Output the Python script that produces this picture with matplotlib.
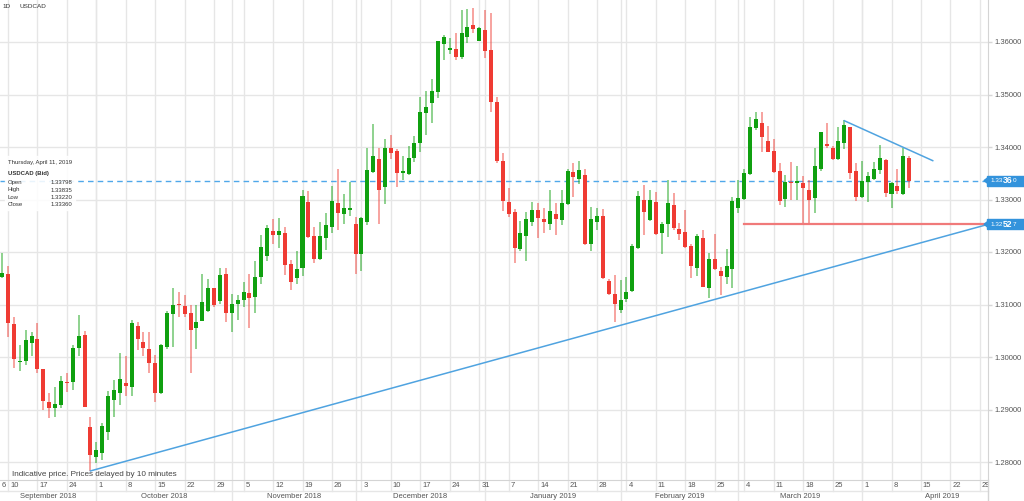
import numpy as np
import pandas as pd
import matplotlib
matplotlib.use("Agg")
import matplotlib.pyplot as plt
from matplotlib.patches import Rectangle, Polygon
from matplotlib.transforms import Bbox, TransformedBbox, blended_transform_factory

# daily USDCAD candles, first one is Fri 2018-09-07, last one Thu 2019-04-11
first_day = "2018-09-07"
opens = [1.3152, 1.3158, 1.3063, 1.2990, 1.2993, 1.3026, 1.3034, 1.2978, 1.2914, 1.2903,
         1.2909, 1.2953, 1.2952, 1.3018, 1.3042, 1.2866, 1.2809, 1.2818, 1.2858, 1.2918,
         1.2932, 1.2951, 1.2942, 1.3060, 1.3029, 1.3015, 1.2988, 1.2931, 1.3020, 1.3082,
         1.3101, 1.3097, 1.3083, 1.3055, 1.3069, 1.3088, 1.3131, 1.3107, 1.3158, 1.3083,
         1.3101, 1.3109, 1.3121, 1.3114, 1.3153, 1.3192, 1.3240, 1.3232, 1.3237, 1.3177,
         1.3150, 1.3169, 1.3296, 1.3230, 1.3186, 1.3226, 1.3248, 1.3293, 1.3272, 1.3280,
         1.3253, 1.3196, 1.3258, 1.3353, 1.3377, 1.3324, 1.3399, 1.3392, 1.3350, 1.3349,
         1.3380, 1.3407, 1.3465, 1.3484, 1.3505, 1.3596, 1.3585, 1.3586, 1.3571, 1.3610,
         1.3632, 1.3602, 1.3622, 1.3585, 1.3486, 1.3374, 1.3296, 1.3277, 1.3206, 1.3230,
         1.3257, 1.3280, 1.3262, 1.3253, 1.3272, 1.3261, 1.3291, 1.3353, 1.3340, 1.3347,
         1.3215, 1.3258, 1.3269, 1.3145, 1.3120, 1.3090, 1.3110, 1.3126, 1.3208, 1.3299,
         1.3261, 1.3296, 1.3236, 1.3253, 1.3290, 1.3243, 1.3239, 1.3211, 1.3169, 1.3226,
         1.3131, 1.3186, 1.3164, 1.3153, 1.3167, 1.3284, 1.3301, 1.3349, 1.3437, 1.3446,
         1.3411, 1.3392, 1.3355, 1.3301, 1.3334, 1.3331, 1.3332, 1.3319, 1.3302, 1.3358,
         1.3406, 1.3399, 1.3378, 1.3407, 1.3438, 1.3354, 1.3304, 1.3334, 1.3340, 1.3356,
         1.3375, 1.3310, 1.3326, 1.3310, 1.33798]
highs = [1.3198, 1.3173, 1.3076, 1.3023, 1.3051, 1.3047, 1.3064, 1.2978, 1.2931, 1.2942,
         1.2964, 1.2969, 1.3022, 1.3080, 1.3050, 1.2886, 1.2839, 1.2875, 1.2936, 1.2956,
         1.3008, 1.3002, 1.3070, 1.3067, 1.3048, 1.3048, 1.3004, 1.3025, 1.3088, 1.3131,
         1.3124, 1.3118, 1.3100, 1.3099, 1.3159, 1.3148, 1.3132, 1.3169, 1.3169, 1.3120,
         1.3118, 1.3143, 1.3159, 1.3183, 1.3232, 1.3251, 1.3262, 1.3264, 1.3248, 1.3185,
         1.3201, 1.3319, 1.3317, 1.3248, 1.3258, 1.3274, 1.3326, 1.3359, 1.3310, 1.3334,
         1.3266, 1.3267, 1.3399, 1.3444, 1.3399, 1.3415, 1.3423, 1.3396, 1.3383, 1.3401,
         1.3421, 1.3496, 1.3507, 1.3529, 1.3602, 1.3613, 1.3607, 1.3618, 1.3661, 1.3662,
         1.3665, 1.3629, 1.3661, 1.3655, 1.3496, 1.3388, 1.3321, 1.3281, 1.3260, 1.3277,
         1.3296, 1.3293, 1.3283, 1.3318, 1.3293, 1.3318, 1.3358, 1.3370, 1.3374, 1.3359,
         1.3285, 1.3283, 1.3281, 1.3148, 1.3156, 1.3147, 1.3153, 1.3215, 1.3317, 1.3328,
         1.3319, 1.3315, 1.3258, 1.3338, 1.3312, 1.3256, 1.3280, 1.3215, 1.3234, 1.3241,
         1.3198, 1.3234, 1.3172, 1.3205, 1.3305, 1.3337, 1.3359, 1.3457, 1.3466, 1.3466,
         1.3440, 1.3415, 1.3369, 1.3347, 1.3372, 1.3364, 1.3345, 1.3337, 1.3399, 1.3429,
         1.3445, 1.3401, 1.3439, 1.3451, 1.3439, 1.3370, 1.3374, 1.3353, 1.3372, 1.3404,
         1.3378, 1.3334, 1.3359, 1.3398, 1.33835]
lows = [1.3150, 1.3038, 1.2979, 1.2974, 1.2985, 1.3001, 1.2970, 1.2899, 1.2884, 1.2885,
        1.2902, 1.2934, 1.2937, 1.3002, 1.2904, 1.2783, 1.2799, 1.2804, 1.2842, 1.2886,
        1.2909, 1.2926, 1.2926, 1.3013, 1.3001, 1.2970, 1.2915, 1.2930, 1.3015, 1.3020,
        1.3076, 1.3076, 1.2969, 1.3015, 1.3069, 1.3086, 1.3095, 1.3101, 1.3067, 1.3048,
        1.3070, 1.3096, 1.3055, 1.3084, 1.3140, 1.3182, 1.3215, 1.3207, 1.3156, 1.3128,
        1.3140, 1.3154, 1.3226, 1.3180, 1.3185, 1.3204, 1.3236, 1.3241, 1.3253, 1.3269,
        1.3159, 1.3164, 1.3251, 1.3351, 1.3253, 1.3291, 1.3378, 1.3323, 1.3337, 1.3347,
        1.3372, 1.3391, 1.3423, 1.3446, 1.3493, 1.3566, 1.3578, 1.3566, 1.3567, 1.3598,
        1.3617, 1.3601, 1.3569, 1.3467, 1.3370, 1.3279, 1.3267, 1.3180, 1.3201, 1.3182,
        1.3250, 1.3226, 1.3236, 1.3241, 1.3232, 1.3251, 1.3290, 1.3304, 1.3330, 1.3213,
        1.3202, 1.3241, 1.3148, 1.3118, 1.3067, 1.3084, 1.3105, 1.3124, 1.3205, 1.3232,
        1.3260, 1.3232, 1.3196, 1.3229, 1.3242, 1.3223, 1.3207, 1.3150, 1.3154, 1.3133,
        1.3112, 1.3166, 1.3118, 1.3140, 1.3131, 1.3275, 1.3299, 1.3347, 1.3432, 1.3390,
        1.3390, 1.3351, 1.3290, 1.3286, 1.3299, 1.3299, 1.3251, 1.3255, 1.3275, 1.3355,
        1.3399, 1.3375, 1.3375, 1.3396, 1.3340, 1.3298, 1.3302, 1.3296, 1.3337, 1.3349,
        1.3305, 1.3283, 1.3310, 1.3309, 1.33220]
closes = [1.3160, 1.3065, 1.2996, 1.2993, 1.3032, 1.3040, 1.2977, 1.2916, 1.2902, 1.2910,
          1.2954, 1.2950, 1.3018, 1.3040, 1.2905, 1.2813, 1.2822, 1.2869, 1.2926, 1.2937,
          1.2958, 1.2945, 1.3065, 1.3034, 1.3018, 1.2989, 1.2931, 1.3023, 1.3084, 1.3099,
          1.3099, 1.3082, 1.3051, 1.3066, 1.3104, 1.3131, 1.3100, 1.3156, 1.3083, 1.3101,
          1.3109, 1.3123, 1.3112, 1.3153, 1.3210, 1.3246, 1.3232, 1.3240, 1.3175, 1.3143,
          1.3168, 1.3307, 1.3229, 1.3186, 1.3230, 1.3251, 1.3297, 1.3274, 1.3283, 1.3283,
          1.3196, 1.3264, 1.3356, 1.3382, 1.3318, 1.3399, 1.3389, 1.3351, 1.3355, 1.3380,
          1.3407, 1.3467, 1.3477, 1.3507, 1.3601, 1.3609, 1.3588, 1.3572, 1.3618, 1.3628,
          1.3624, 1.3626, 1.3583, 1.3486, 1.3374, 1.3298, 1.3272, 1.3207, 1.3236, 1.3263,
          1.3280, 1.3264, 1.3257, 1.3279, 1.3263, 1.3294, 1.3354, 1.3342, 1.3356, 1.3215,
          1.3262, 1.3269, 1.3150, 1.3120, 1.3101, 1.3109, 1.3124, 1.3211, 1.3307, 1.3277,
          1.3299, 1.3234, 1.3253, 1.3294, 1.3245, 1.3234, 1.3210, 1.3174, 1.3230, 1.3134,
          1.3186, 1.3167, 1.3154, 1.3174, 1.3297, 1.3303, 1.3351, 1.3439, 1.3453, 1.3420,
          1.3391, 1.3353, 1.3298, 1.3334, 1.3332, 1.3335, 1.3321, 1.3300, 1.3364, 1.3428,
          1.3401, 1.3378, 1.3411, 1.3442, 1.3351, 1.3305, 1.3336, 1.3345, 1.3358, 1.3380,
          1.3312, 1.3332, 1.3317, 1.3383, 1.33360]

price_ticks = [1.28, 1.29, 1.30, 1.31, 1.32, 1.33, 1.34, 1.35, 1.36]
month_lines = ["2018-10-01", "2018-11-01", "2018-11-30", "2019-01-01",
               "2019-02-01", "2019-03-01", "2019-04-01"]
month_names = ["September 2018", "October 2018", "November 2018", "December 2018",
               "January 2019", "February 2019", "March 2019", "April 2019"]

# drawn lines: uptrend from the October low, downtrend from the March high, support
trend_up_days = ["2018-09-28", "2019-04-29"]
trend_up_vals = [1.2783, 1.32484]
trend_down_days = ["2019-03-27", "2019-04-17"]
trend_down_vals = [1.3450, 1.3374]
support_day = "2019-03-04"
support_val = 1.3253
trend_tag = 1.32527

W, H = 1024, 501
STEP = 5.89      # pixels per trading day
X0 = 8.0         # pixel of Monday 2018-09-10

plt.rcParams['font.family'] = ['Liberation Sans', 'DejaVu Sans']

cal = pd.bdate_range("2018-09-03", "2019-05-10")
cal_pos = np.arange(len(cal)) - 5


def day_pos(d):
    return cal_pos[cal.get_loc(pd.Timestamp(d))]


def fx(px):
    return px / W


def fy(py):
    return 1 - py / H


fig = plt.figure(figsize=(W / 100, H / 100), dpi=100)
ax = fig.add_axes([0, 1 - 480 / H, 988 / W, 480 / H])
xlo, xhi = -X0 / STEP, (988 - X0) / STEP
ax.set_xlim(xlo, xhi)
ax.set_ylim(1.36 - 438 / 5250, 1.36 + 42 / 5250)

o = np.array(opens)
h = np.array(highs)
l = np.array(lows)
c = np.array(closes)
days = pd.bdate_range(first_day, periods=len(c))
pos = np.array([day_pos(d) for d in days])

up = c >= o
green, red = '#10a010', '#ef3b33'
body_col = [green if u else red for u in up]
ax.vlines(pos, l, h, colors=body_col, lw=1.2, alpha=0.55, zorder=3)
ax.bar(pos, np.maximum(np.abs(c - o), 0.00018), bottom=np.minimum(o, c),
       width=0.68, color=body_col, zorder=4)

# grid
grid_col = '#e6e6e6'
ax.set_yticks(price_ticks)
ax.set_yticklabels(['%.5f' % t for t in price_ticks])
ax.yaxis.tick_right()
ax.tick_params(axis='y', length=3, width=1, color='#d6d6d6', pad=2,
               labelsize=5.5, labelcolor='#555555')
ax.set_xticks([])
ax.grid(axis='y', color=grid_col, lw=1, zorder=0)
for s in ['top', 'left']:
    ax.spines[s].set_visible(False)
for s in ['right', 'bottom']:
    ax.spines[s].set_color('#d4d4d4')

bt = blended_transform_factory(ax.transData, ax.transAxes)
row1 = -11 / 480
row2 = -21 / 480
clip = TransformedBbox(Bbox([[0, 0], [988 / W, 1]]), fig.transFigure)

mondays = cal[cal.weekday == 0]
for d in mondays:
    p = day_pos(d)
    if p > xhi or p < xlo:
        continue
    ax.plot([p, p], [row1, 1], color=grid_col, lw=1, transform=bt,
            clip_on=False, zorder=0)
    t = ax.text(p + 2 / STEP, -5.5 / 480, str(d.day), transform=bt, ha='left',
                va='center', fontsize=5.5, color='#555555')
    t.set_clip_box(clip)
    t.set_clip_on(True)
# first visible date label at the left edge
ax.text(xlo + 1.5 / STEP, -5.5 / 480, "6", transform=bt,
        ha='left', va='center', fontsize=5.5, color='#555555')

mpos = [day_pos(d) for d in month_lines]
for p in mpos:
    ax.plot([p, p], [row2, 1], color=grid_col, lw=1, transform=bt,
            clip_on=False, zorder=0)
ax.plot([xlo, xhi], [row1, row1], color=grid_col,
        lw=1, transform=bt, clip_on=False)
ax.plot([xhi] * 2, [row2, 0], color='#d4d4d4', lw=1,
        transform=bt, clip_on=False)
edges = [xlo] + mpos + [(1022 - X0) / STEP]
for name, a, b in zip(month_names, edges[:-1], edges[1:]):
    ax.text((a + b) / 2, -16 / 480, name, transform=bt, ha='center',
            va='center', fontsize=5.5, color='#555555', clip_on=False)

# drawn lines
line_blue = '#4fa3e0'
ax.axhline(c[-1], color='#4fa8ea', lw=1, ls=(0, (4, 3)), zorder=2)
ux = [day_pos(d) for d in trend_up_days]
slope = (trend_up_vals[1] - trend_up_vals[0]) / (ux[1] - ux[0])
ax.plot([ux[0], xhi], [trend_up_vals[0], trend_up_vals[0] + slope * (xhi - ux[0])],
        color=line_blue, lw=1.1, zorder=5)
ax.plot([day_pos(d) for d in trend_down_days], trend_down_vals,
        color=line_blue, lw=1.1, zorder=5)
ax.plot([day_pos(support_day), xhi], [support_val] * 2,
        color='#f07a7a', lw=1.6, zorder=5)

# price tags on the right axis
tag_col = '#3393dc'
for val in [c[-1], trend_tag]:
    ypx = (1.36 - val) * 5250 + 42
    fig.add_artist(Rectangle((fx(987), fy(ypx + 5)), fx(37), 10 / H,
                             color=tag_col, zorder=10))
    fig.add_artist(Polygon([(fx(984), fy(ypx)), (fx(988), fy(ypx - 3)),
                            (fx(988), fy(ypx + 3))], color=tag_col, zorder=10))
    s = '%.5f' % val
    fig.text(fx(990.5), fy(ypx), s[:4], color='white', fontsize=4.6,
             va='center', ha='left', zorder=11)
    fig.text(fx(1002.8), fy(ypx), s[4:6], color='white', fontsize=6.2,
             fontweight='bold', va='center', ha='left', zorder=11)
    fig.text(fx(1012.6), fy(ypx), s[6:], color='white', fontsize=4.6,
             va='center', ha='left', zorder=11)

# header and info box
fig.text(fx(2), fy(6), "1D", fontsize=4.6, color='#333333', va='center')
fig.text(fx(19), fy(6), "USDCAD", fontsize=4.6, color='#333333', va='center')

fig.add_artist(Rectangle((fx(5), fy(210)), fx(70), 54 / H, color='white',
                         alpha=0.88, zorder=9))
fig.text(fx(7.5), fy(162.3), "Thursday, April 11, 2019", fontsize=4.3,
         color='#333333', va='center', zorder=10)
fig.text(fx(7.5), fy(173.3), "USDCAD (Bid)", fontsize=4.3, fontweight='bold',
         color='#333333', va='center', zorder=10)
rows = [("Open", o[-1]), ("High", h[-1]), ("Low", l[-1]), ("Close", c[-1])]
for (lab, v), ypx in zip(rows, [182.7, 190, 197.7, 205]):
    fig.text(fx(7.5), fy(ypx), lab, fontsize=4.3, color='#333333',
             va='center', zorder=10)
    fig.text(fx(50.5), fy(ypx), '%.5f' % v, fontsize=4.3, color='#333333',
             va='center', zorder=10)

fig.text(fx(12), fy(475), "Indicative price. Prices delayed by 10 minutes",
         fontsize=5.9, color='#444444', va='center', zorder=10)

fig.savefig("out.png", dpi=100, facecolor='white')
